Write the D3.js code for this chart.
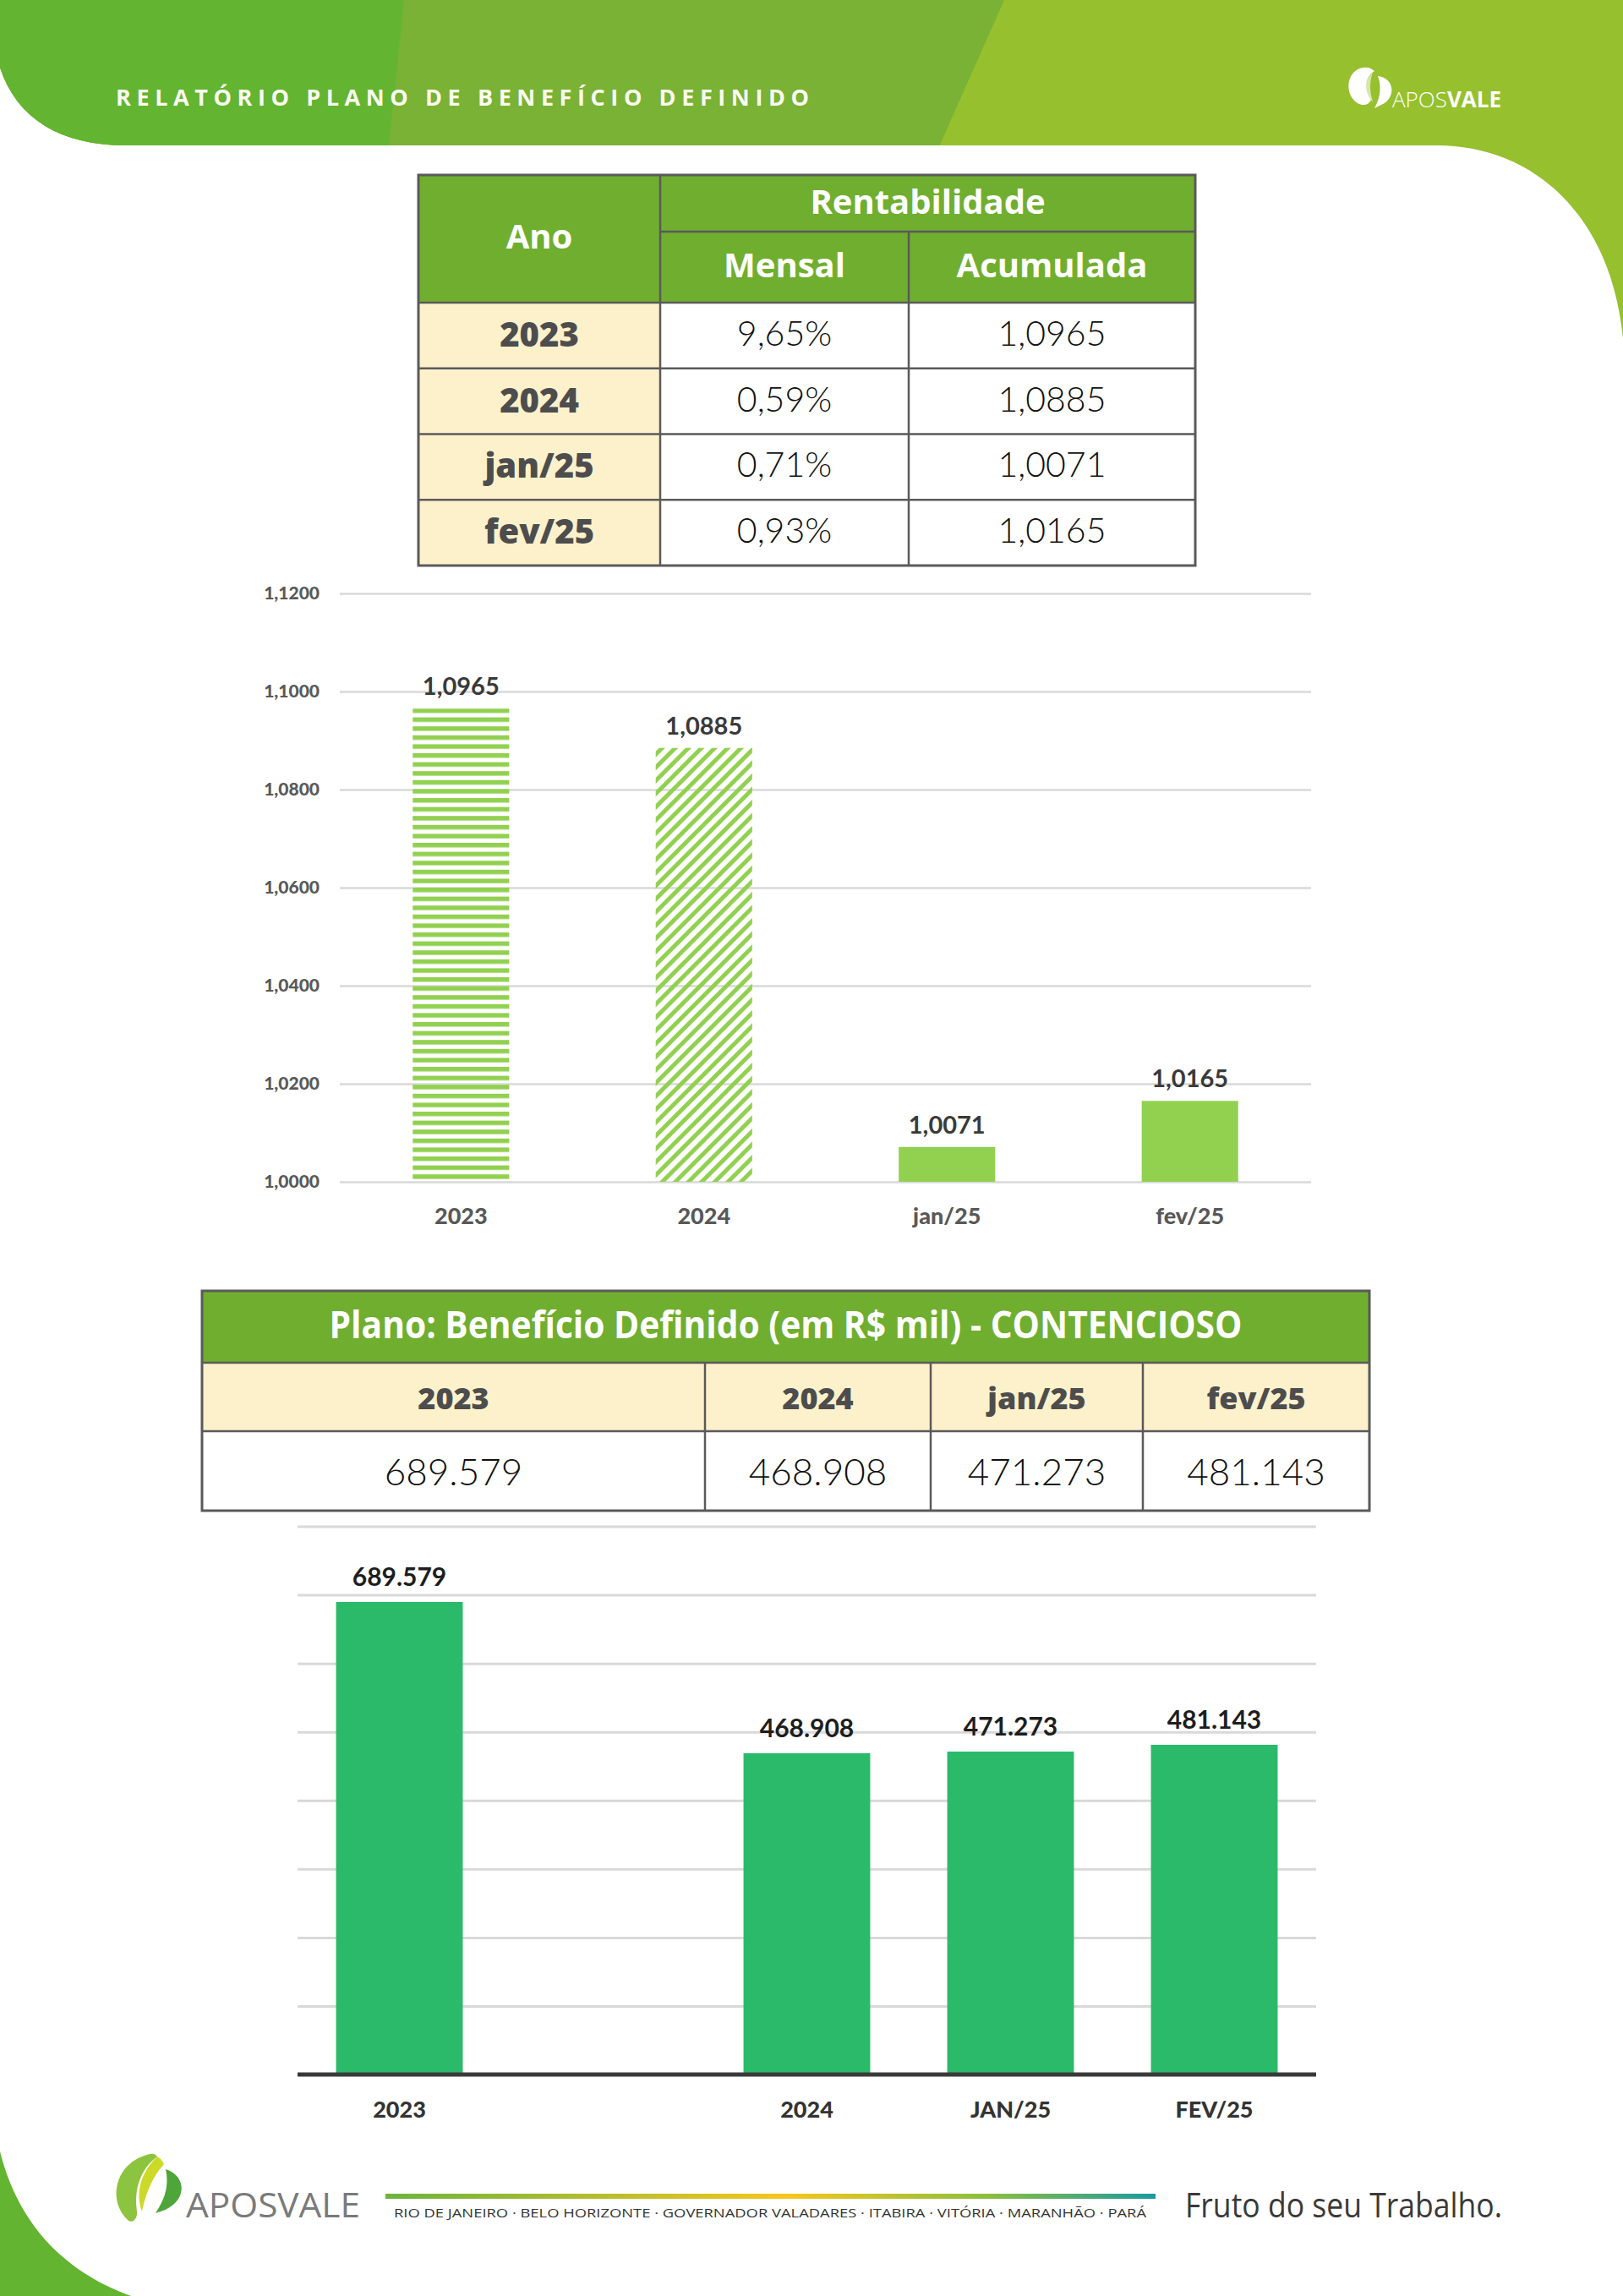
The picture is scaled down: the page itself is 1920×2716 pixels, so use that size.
<!DOCTYPE html>
<html>
<head>
<meta charset="utf-8">
<script src="https://d3js.org/d3.v7.min.js"></script>
<style>
  body { margin: 0; background: #fff; }
  svg { display: block; }
  .grid line { stroke: #d9d9d9; stroke-width: 2.5; }
  .grid .domain { stroke: none; }
  .ylab text { font-family: Lato, "Open Sans", sans-serif; font-weight: 900; font-size: 21px; fill: #595959; }
  .ylab .domain, .ylab line { stroke: none; }
</style>
</head>
<body>
<svg id="page" width="1920" height="2716"></svg>
<script>
  // dados da tabela de rentabilidade
  const anos = ["2023", "2024", "jan/25", "fev/25"];
  const mensal = [9.65, 0.59, 0.71, 0.93];
  const acumulada = [1.0965, 1.0885, 1.0071, 1.0165];
  const ticksRent = [1.00, 1.02, 1.04, 1.06, 1.08, 1.10, 1.12];

  // contencioso (R$ mil)
  const periodos = ["2023", "2024", "jan/25", "fev/25"];
  const contencioso = [689579, 468908, 471273, 481143];
  const catsGrafico2 = ["2023", "", "2024", "JAN/25", "FEV/25"];
  const ticksCont = [100000, 200000, 300000, 400000, 500000, 600000, 700000, 800000];

  const br = d3.formatLocale({ decimal: ",", thousands: ".", grouping: [3], currency: ["R$", ""] });
  const fmt4 = br.format(".4f");
  const fmtPct = v => br.format(".2f")(v) + "%";
  const fmtMil = br.format(",d");

  const svg = d3.select("#page");
  const defs = svg.append("defs");

  const verdeEsc = "#63b431", verdeMed = "#79b234", verdeCla = "#96c02d";
  const verdeTab = "#70ae2f", creme = "#fdf1cb", borda = "#5a5a5a";

  // ---------- cabecalho ----------
  const headShape = "M0,0 H1920 V400 C1905,250 1810,172 1700,172 H150 C70,172 20,140 0,80 Z";
  defs.append("clipPath").attr("id", "headClip").append("path").attr("d", headShape);
  const head = svg.append("g").attr("clip-path", "url(#headClip)");
  head.append("rect").attr("width", 1920).attr("height", 420).attr("fill", verdeCla);
  head.append("path").attr("d", "M0,0 H1188 L1108,180 H0 Z").attr("fill", verdeMed);
  head.append("path").attr("d", "M0,0 H478 L459,180 H0 Z").attr("fill", verdeEsc);

  svg.append("text")
    .text("RELATÓRIO PLANO DE BENEFÍCIO DEFINIDO")
    .attr("x", 137).attr("y", 125)
    .attr("textLength", 820).attr("lengthAdjust", "spacing")
    .style("font-family", "'Open Sans', sans-serif")
    .style("font-weight", 700).style("font-size", "27px")
    .style("fill", "#fbfbf0");

  // logo topo
  const logoTop = svg.append("g").attr("fill", "#fff");
  logoTop.append("path").attr("d", "M1612,80 C1592,84 1590,112 1606,122 C1612,126 1620,124 1622,118 C1612,104 1616,90 1626,84 C1622,80 1617,79 1612,80 Z");
  logoTop.append("path").attr("d", "M1630,90 C1648,92 1652,112 1638,122 L1626,128 C1634,114 1634,100 1630,90 Z");
  logoTop.append("path").attr("d", "M1624,86 C1612,96 1614,112 1624,120 C1620,108 1620,96 1624,86 Z").attr("opacity", 0.6);
  const lt = logoTop.append("text").attr("x", 1647).attr("y", 127)
    .style("font-family", "'Open Sans', sans-serif").style("font-size", "26px");
  lt.append("tspan").text("APOS").style("font-weight", 300);
  lt.append("tspan").text("VALE").style("font-weight", 700);

  // canto inferior esquerdo
  svg.append("path").attr("d", "M0,2545 C20,2625 70,2685 155,2716 H0 Z").attr("fill", verdeEsc);

  // ---------- tabela 1 ----------
  const t1 = svg.append("g");
  const t1x = [495, 781, 1075, 1414];
  const t1Top = 207, t1Mid = 274, t1Head = 358, t1Bot = 669;
  const rowScale = d3.scaleBand().domain(anos).range([t1Head, t1Bot]);

  t1.append("rect").attr("x", t1x[0]).attr("y", t1Top).attr("width", t1x[3] - t1x[0]).attr("height", t1Head - t1Top).attr("fill", verdeTab);
  t1.selectAll("rect.ano").data(anos).join("rect").attr("class", "ano")
    .attr("x", t1x[0]).attr("y", d => rowScale(d))
    .attr("width", t1x[1] - t1x[0]).attr("height", rowScale.bandwidth())
    .attr("fill", creme);

  const hfont = "'Open Sans', sans-serif";
  const headTxt = (g, txt, x, y) => g.append("text").text(txt).attr("x", x).attr("y", y)
    .attr("text-anchor", "middle").style("font-family", hfont).style("font-weight", 700)
    .style("font-size", "40px").style("fill", "#fff");
  headTxt(t1, "Ano", (t1x[0] + t1x[1]) / 2, 294);
  headTxt(t1, "Rentabilidade", (t1x[1] + t1x[3]) / 2, 253);
  headTxt(t1, "Mensal", (t1x[1] + t1x[2]) / 2, 328);
  headTxt(t1, "Acumulada", (t1x[2] + t1x[3]) / 2, 328);

  t1.selectAll("text.ano").data(anos).join("text").attr("class", "ano")
    .text(d => d)
    .attr("x", (t1x[0] + t1x[1]) / 2)
    .attr("y", d => rowScale(d) + rowScale.bandwidth() / 2 + 13)
    .attr("text-anchor", "middle")
    .style("font-family", hfont).style("font-weight", 800).style("font-size", "40px").style("fill", "#4d4d4d");

  const valFont = "Lato, 'Open Sans', sans-serif";
  t1.selectAll("text.mensal").data(mensal).join("text").attr("class", "mensal")
    .text(d => fmtPct(d))
    .attr("x", (t1x[1] + t1x[2]) / 2)
    .attr("y", (d, i) => rowScale(anos[i]) + rowScale.bandwidth() / 2 + 12)
    .attr("text-anchor", "middle")
    .style("font-family", valFont).style("font-weight", 300).style("font-size", "41px").style("fill", "#111");
  t1.selectAll("text.acum").data(acumulada).join("text").attr("class", "acum")
    .text(d => fmt4(d))
    .attr("x", (t1x[2] + t1x[3]) / 2)
    .attr("y", (d, i) => rowScale(anos[i]) + rowScale.bandwidth() / 2 + 12)
    .attr("text-anchor", "middle")
    .style("font-family", valFont).style("font-weight", 300).style("font-size", "41px").style("fill", "#111");

  // linhas da tabela 1
  const lines1 = [
    [t1x[1], t1Mid, t1x[3], t1Mid],
    [t1x[1], t1Top, t1x[1], t1Bot],
    [t1x[2], t1Mid, t1x[2], t1Bot],
    [t1x[0], t1Head, t1x[3], t1Head]
  ];
  anos.slice(1).forEach(a => lines1.push([t1x[0], rowScale(a), t1x[3], rowScale(a)]));
  t1.selectAll("line").data(lines1).join("line")
    .attr("x1", d => d[0]).attr("y1", d => d[1]).attr("x2", d => d[2]).attr("y2", d => d[3])
    .attr("stroke", borda).attr("stroke-width", 2.5);
  t1.append("rect").attr("x", t1x[0]).attr("y", t1Top).attr("width", t1x[3] - t1x[0]).attr("height", t1Bot - t1Top)
    .attr("fill", "none").attr("stroke", borda).attr("stroke-width", 3);

  // ---------- grafico 1 ----------
  const barVerde = "#92d050";
  const hp = defs.append("pattern").attr("id", "hstripe").attr("patternUnits", "userSpaceOnUse")
    .attr("width", 20).attr("height", 10.6).attr("y", 838);
  hp.append("rect").attr("width", 20).attr("height", 5.4).attr("fill", barVerde);
  const dp = defs.append("pattern").attr("id", "dstripe").attr("patternUnits", "userSpaceOnUse")
    .attr("width", 11).attr("height", 11).attr("patternTransform", "rotate(45)");
  dp.append("rect").attr("width", 5).attr("height", 11).attr("fill", barVerde);

  const x1 = d3.scaleBand().domain(anos).range([402, 1551]).paddingInner(0.603).paddingOuter(0.3);
  const y1 = d3.scaleLinear().domain([1.0, 1.12]).range([1398, 702]);

  svg.append("g").attr("class", "grid")
    .attr("transform", "translate(402,0)")
    .call(d3.axisLeft(y1).tickValues(ticksRent).tickSize(-(1551 - 402)).tickFormat(""));
  svg.append("g").attr("class", "ylab")
    .attr("transform", "translate(386,0)")
    .call(d3.axisLeft(y1).tickValues(ticksRent).tickSize(0).tickPadding(8).tickFormat(fmt4));

  const fills1 = ["url(#hstripe)", "url(#dstripe)", barVerde, barVerde];
  svg.append("g").selectAll("rect").data(acumulada).join("rect")
    .attr("x", (d, i) => x1(anos[i])).attr("width", x1.bandwidth())
    .attr("y", d => y1(d)).attr("height", d => y1(1.0) - y1(d))
    .attr("fill", (d, i) => fills1[i]);

  svg.append("g").selectAll("text").data(acumulada).join("text")
    .text(d => fmt4(d))
    .attr("x", (d, i) => x1(anos[i]) + x1.bandwidth() / 2)
    .attr("y", d => y1(d) - 16)
    .attr("text-anchor", "middle")
    .style("font-family", valFont).style("font-weight", 700).style("font-size", "29px").style("fill", "#3a3a3a");

  svg.append("g").attr("transform", "translate(0,1398)")
    .call(d3.axisBottom(x1).tickSize(0).tickPadding(0))
    .call(g => g.select(".domain").remove())
    .selectAll("text")
    .attr("dy", 0).attr("y", 50)
    .style("font-family", valFont).style("font-weight", 900).style("font-size", "27px").style("fill", "#595959");

  // ---------- tabela 2 ----------
  const t2 = svg.append("g");
  const t2x = [239, 834, 1101, 1352, 1620];
  const t2y = [1527, 1612, 1693, 1787];
  t2.append("rect").attr("x", t2x[0]).attr("y", t2y[0]).attr("width", t2x[4] - t2x[0]).attr("height", t2y[1] - t2y[0]).attr("fill", verdeTab);
  t2.append("rect").attr("x", t2x[0]).attr("y", t2y[1]).attr("width", t2x[4] - t2x[0]).attr("height", t2y[2] - t2y[1]).attr("fill", creme);

  t2.append("text").text("Plano: Benefício Definido (em R$ mil) - CONTENCIOSO")
    .attr("x", (t2x[0] + t2x[4]) / 2).attr("y", 1583).attr("text-anchor", "middle")
    .attr("textLength", 1080).attr("lengthAdjust", "spacingAndGlyphs")
    .style("font-family", hfont).style("font-weight", 700).style("font-size", "45px").style("fill", "#fff");

  t2.selectAll("text.per").data(periodos).join("text").attr("class", "per")
    .text(d => d)
    .attr("x", (d, i) => (t2x[i] + t2x[i + 1]) / 2).attr("y", 1667)
    .attr("text-anchor", "middle")
    .style("font-family", hfont).style("font-weight", 800).style("font-size", "36px").style("fill", "#4d4d4d");
  t2.selectAll("text.val").data(contencioso).join("text").attr("class", "val")
    .text(d => fmtMil(d))
    .attr("x", (d, i) => (t2x[i] + t2x[i + 1]) / 2).attr("y", 1757)
    .attr("text-anchor", "middle")
    .style("font-family", valFont).style("font-weight", 300).style("font-size", "44px").style("fill", "#111");

  const lines2 = [[t2x[0], t2y[1], t2x[4], t2y[1]], [t2x[0], t2y[2], t2x[4], t2y[2]]];
  [1, 2, 3].forEach(i => lines2.push([t2x[i], t2y[1], t2x[i], t2y[3]]));
  t2.selectAll("line").data(lines2).join("line")
    .attr("x1", d => d[0]).attr("y1", d => d[1]).attr("x2", d => d[2]).attr("y2", d => d[3])
    .attr("stroke", borda).attr("stroke-width", 2.5);
  t2.append("rect").attr("x", t2x[0]).attr("y", t2y[0]).attr("width", t2x[4] - t2x[0]).attr("height", t2y[3] - t2y[0])
    .attr("fill", "none").attr("stroke", borda).attr("stroke-width", 3);

  // ---------- grafico 2 ----------
  const x2 = d3.scaleBand().domain(catsGrafico2).range([352, 1557]).paddingInner(0.378).paddingOuter(0.189);
  const y2 = d3.scaleLinear().domain([0, 800000]).range([2454, 1805.5]);
  const barCont = "#2bba6a";

  svg.append("g").attr("class", "grid")
    .attr("transform", "translate(352,0)")
    .call(d3.axisLeft(y2).tickValues(ticksCont).tickSize(-(1557 - 352)).tickFormat(""))
    .selectAll("line").style("stroke-width", 3);

  const cat2 = periodos.map(p => p.toUpperCase());
  svg.append("g").selectAll("rect").data(contencioso).join("rect")
    .attr("x", (d, i) => x2(cat2[i])).attr("width", x2.bandwidth())
    .attr("y", d => y2(d)).attr("height", d => y2(0) - y2(d))
    .attr("fill", barCont);

  svg.append("line").attr("x1", 352).attr("x2", 1557).attr("y1", y2(0)).attr("y2", y2(0))
    .attr("stroke", "#3a3a3a").attr("stroke-width", 5);

  svg.append("g").selectAll("text").data(contencioso).join("text")
    .text(d => fmtMil(d))
    .attr("x", (d, i) => x2(cat2[i]) + x2.bandwidth() / 2)
    .attr("y", d => y2(d) - 19)
    .attr("text-anchor", "middle")
    .style("font-family", valFont).style("font-weight", 700).style("font-size", "30px").style("fill", "#1e1e1e");

  svg.append("g").attr("transform", "translate(0,2454)")
    .call(d3.axisBottom(x2).tickSize(0).tickPadding(0))
    .call(g => g.select(".domain").remove())
    .selectAll("text")
    .attr("dy", 0).attr("y", 51)
    .style("font-family", valFont).style("font-weight", 900).style("font-size", "27px").style("fill", "#333");

  // ---------- rodape ----------
  const foot = svg.append("g");
  foot.append("path").attr("d", "M178,2548 C138,2556 126,2600 150,2625 C156,2632 163,2625 162,2616 C158,2590 166,2566 186,2551 C184,2548 181,2547 178,2548 Z").attr("fill", "#8cc43f");
  foot.append("path").attr("d", "M186,2551 C166,2570 160,2595 168,2616 C172,2596 180,2575 194,2560 C192,2556 190,2553 186,2551 Z").attr("fill", "#cdd927");
  foot.append("path").attr("d", "M196,2566 C222,2574 222,2606 190,2616 L184,2618 C196,2600 200,2584 196,2566 Z").attr("fill", "#4ea53a");
  foot.append("text").text("APOSVALE").attr("x", 220).attr("y", 2623)
    .attr("textLength", 206).attr("lengthAdjust", "spacingAndGlyphs")
    .style("font-family", "'Open Sans', sans-serif").style("font-weight", 400).style("font-size", "40px").style("fill", "#7a7a7a");

  const grad = defs.append("linearGradient").attr("id", "faixa").attr("x1", "0%").attr("x2", "100%");
  grad.append("stop").attr("offset", "0%").attr("stop-color", "#6bb43d");
  grad.append("stop").attr("offset", "52%").attr("stop-color", "#f6c61c");
  grad.append("stop").attr("offset", "78%").attr("stop-color", "#8cbf3c");
  grad.append("stop").attr("offset", "100%").attr("stop-color", "#1a9aa0");
  foot.append("rect").attr("x", 456).attr("y", 2595).attr("width", 911).attr("height", 6).attr("fill", "url(#faixa)");

  foot.append("text")
    .text("RIO DE JANEIRO · BELO HORIZONTE · GOVERNADOR VALADARES · ITABIRA · VITÓRIA · MARANHÃO · PARÁ")
    .attr("x", 466).attr("y", 2623)
    .attr("textLength", 890).attr("lengthAdjust", "spacingAndGlyphs")
    .style("font-family", "'Open Sans', sans-serif").style("font-size", "15px").style("fill", "#333");

  foot.append("text").text("Fruto do seu Trabalho.")
    .attr("x", 1402).attr("y", 2623)
    .attr("textLength", 375).attr("lengthAdjust", "spacingAndGlyphs")
    .style("font-family", "'Open Sans', sans-serif").style("font-weight", 400).style("font-size", "40px").style("fill", "#3a3a3a");
</script>
</body>
</html>
